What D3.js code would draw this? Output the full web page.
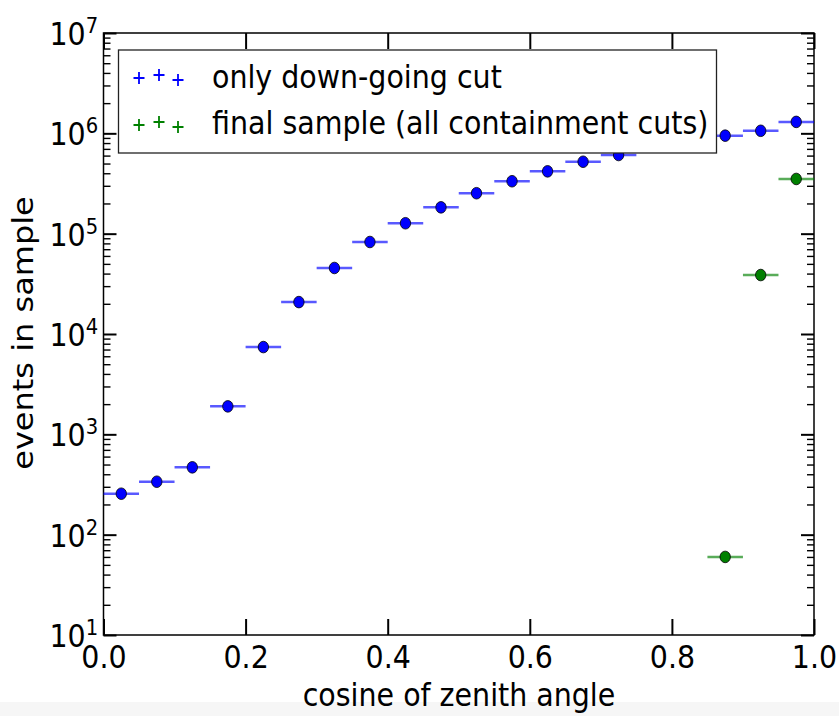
<!doctype html>
<html lang="en">
<head>
<meta charset="utf-8">
<title>events vs cosine of zenith angle</title>
<script src="https://cdn.jsdelivr.net/npm/d3@7"></script>
<style>
  body { margin: 0; background: #fff; }
  svg { display: block; font-family: "DejaVu Sans", sans-serif; }
</style>
</head>
<body>
<svg width="839" height="716"></svg>
<script>
// bin centres (cos zenith), bin width 0.05
var binCentres = [0.025, 0.075, 0.125, 0.175, 0.225, 0.275, 0.325, 0.375, 0.425, 0.475,
                  0.525, 0.575, 0.625, 0.675, 0.725, 0.775, 0.825, 0.875, 0.925, 0.975];
var downGoing = [256, 337, 469, 1900, 7410, 20800, 45500, 82600, 127000, 183000,
                 253000, 333000, 418000, 521000, 608000, 760000, 850000, 948000, 1060000, 1300000];
var finalCentres = [0.875, 0.925, 0.975];
var finalSample = [60, 38700, 351000];
var halfBin = 0.025;

var xTicks = [0, 0.2, 0.4, 0.6, 0.8, 1.0];
var yTicks = [1e1, 1e2, 1e3, 1e4, 1e5, 1e6, 1e7];
var legendLabels = ["only down-going cut", "final sample (all containment cuts)"];
var seriesColors = ["#0000ff", "#008000"];

var SX = 0.89; // the picture is a bit squeezed sideways
var svg = d3.select("svg");

svg.append("rect").attr("x", 0).attr("y", 702).attr("width", 839).attr("height", 14).attr("fill", "#f6f6f6");

var x = d3.scaleLinear().domain([0, 1]).range([103.5, 814]);
var y = d3.scaleLog().domain([10, 1e7]).range([635, 33]);

// minor log ticks 2..9 per decade
var minors = [];
yTicks.slice(0, -1).forEach(d => { for (var k = 2; k <= 9; k++) minors.push(d * k); });

function squeeze(sel) {
  sel.attr("transform", function() {
    var old = d3.select(this).attr("transform") || "";
    return old + " scale(" + SX + ",1)";
  });
}

// bottom / top axes, ticks inward
var xb = svg.append("g").attr("transform", "translate(0,635)")
  .call(d3.axisBottom(x).tickValues(xTicks).tickSizeInner(-16).tickSizeOuter(0).tickPadding(10.5).tickFormat(d3.format(".1f")));
var xt = svg.append("g").attr("transform", "translate(0,33)")
  .call(d3.axisTop(x).tickValues(xTicks).tickSizeInner(-16).tickSizeOuter(0).tickFormat(""));

// left / right axes
var yl = svg.append("g").attr("transform", "translate(103.5,0)")
  .call(d3.axisLeft(y).tickValues(yTicks).tickSizeInner(-13).tickSizeOuter(0).tickPadding(20).tickFormat(""));
var yr = svg.append("g").attr("transform", "translate(814,0)")
  .call(d3.axisRight(y).tickValues(yTicks).tickSizeInner(-13).tickSizeOuter(0).tickFormat(""));
var ylm = svg.append("g").attr("transform", "translate(103.5,0)")
  .call(d3.axisLeft(y).tickValues(minors).tickSizeInner(-7).tickSizeOuter(0).tickFormat(""));
var yrm = svg.append("g").attr("transform", "translate(814,0)")
  .call(d3.axisRight(y).tickValues(minors).tickSizeInner(-7).tickSizeOuter(0).tickFormat(""));

[xb, xt, yl, yr, ylm, yrm].forEach(g => {
  g.select(".domain").remove();
  g.selectAll(".tick line").attr("stroke", "#000").attr("stroke-width", 2);
});
[ylm, yrm].forEach(g => g.selectAll(".tick line").attr("stroke-width", 1.4));

xb.selectAll(".tick text").attr("font-size", 32).attr("fill", "#000")
  .attr("font-family", "DejaVu Sans").call(squeeze);

// y labels as 10^n
yl.selectAll(".tick text").each(function(d) {
  var t = d3.select(this).attr("x", -6).attr("dy", "0.36em").attr("fill", "#000")
    .attr("font-size", 32).attr("font-family", "DejaVu Sans").text(null);
  t.append("tspan").text("10");
  t.append("tspan").attr("font-size", 22).attr("dy", "-0.55em").text(Math.round(Math.log10(d)));
}).call(squeeze);

// frame
svg.append("rect").attr("x", 103.5).attr("y", 33).attr("width", 814 - 103.5).attr("height", 635 - 33)
  .attr("fill", "none").attr("stroke", "#000").attr("stroke-width", 1.5);

function drawSeries(xs, vals, color) {
  var g = svg.append("g");
  g.selectAll("line").data(vals).enter().append("line")
    .attr("x1", (d, i) => x(xs[i] - halfBin)).attr("x2", (d, i) => x(xs[i] + halfBin))
    .attr("y1", d => y(d)).attr("y2", d => y(d))
    .attr("stroke", color).attr("stroke-opacity", 0.65).attr("stroke-width", 2.5);
  g.selectAll("ellipse").data(vals).enter().append("ellipse")
    .attr("cx", (d, i) => x(xs[i])).attr("cy", d => y(d))
    .attr("rx", 5.2).attr("ry", 5.8)
    .attr("fill", color).attr("stroke", "#000").attr("stroke-width", 0.8);
}
drawSeries(binCentres, downGoing, seriesColors[0]);
drawSeries(finalCentres, finalSample, seriesColors[1]);

// legend
var leg = svg.append("g");
leg.append("rect").attr("x", 118.5).attr("y", 50).attr("width", 598).attr("height", 103)
  .attr("fill", "#fff").attr("stroke", "#222").attr("stroke-width", 1.3);
var plusX = [139, 159, 178], plusDy = [1, -2, 3];
legendLabels.forEach((lab, i) => {
  var cy = 77 + i * 47;
  plusX.forEach((px, j) => {
    leg.append("path").attr("d", "M" + (px - 5.5) + "," + (cy + plusDy[j]) + "h11M" + px + "," + (cy + plusDy[j] - 6) + "v12")
      .attr("stroke", seriesColors[i]).attr("stroke-width", 1.8).attr("fill", "none");
  });
  leg.append("text").attr("font-size", 32).attr("fill", "#000")
    .attr("transform", "translate(212," + (88 + i * 46) + ") scale(" + SX + ",1)").text(lab);
});

// axis titles
svg.append("text").attr("font-size", 32).attr("text-anchor", "middle").attr("fill", "#000")
  .attr("transform", "translate(459,706) scale(" + SX + ",1)").text("cosine of zenith angle");
svg.append("text").attr("font-size", 32).attr("text-anchor", "middle").attr("fill", "#000")
  .attr("transform", "translate(33,333) scale(" + SX + ",1) rotate(-90)").text("events in sample");
</script>
</body>
</html>
